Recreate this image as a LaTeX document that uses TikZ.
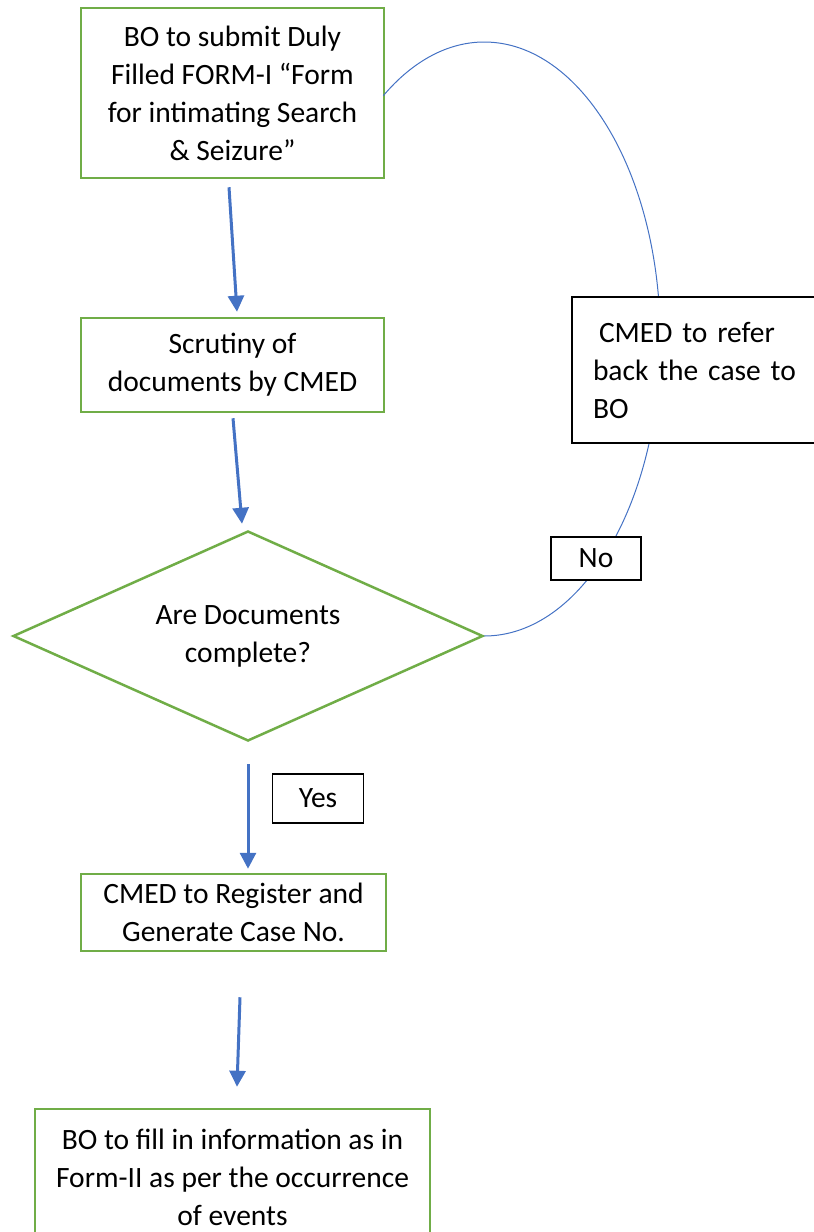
\documentclass[tikz,border=0pt]{standalone}
\usepackage{fontspec}
\setmainfont{Carlito}
\usepackage{xcolor}
\usetikzlibrary{positioning,calc,shapes.geometric,arrows.meta}
\definecolor{boxgreen}{HTML}{70AD47}
\definecolor{flowblue}{HTML}{4472C4}
\tikzset{
  stepbox/.style={draw=boxgreen, line width=2.5pt, align=center, inner sep=0pt},
  decbox/.style={diamond, aspect=2.24, draw=boxgreen, line width=2.5pt, align=center, inner sep=0pt, minimum width=470pt, minimum height=210pt},
  notebox/.style={draw=black, line width=1.5pt, fill=white, inner sep=0pt},
  flowarrow/.style={flowblue, line width=3pt, -{Triangle[length=16pt,width=16pt]}},
  loopline/.style={flowblue, line width=1pt}
}

\begin{document}
\begin{tikzpicture}[x=1pt, y=1pt, every node/.style={font=\fontsize{29.5}{38}\selectfont}]
			\useasboundingbox (0,0) rectangle (814,-1232);
			% main flow
			\node[stepbox, minimum width=303pt, minimum height=170pt] (submit) at (232.5,-93) {BO to submit Duly\\Filled FORM-I “Form\\for intimating Search\\\& Seizure”};
			\node[stepbox, minimum width=303pt, minimum height=94pt] (scrutiny) at (232.5,-365) {Scrutiny of\\documents by CMED};
			\node[decbox] (decision) at (248,-636) {Are Documents\\complete?};
			\node[stepbox, minimum width=305pt, minimum height=77pt] (register) at (233.5,-912.5) {CMED to Register and\\Generate Case No.};
			\node[stepbox, minimum width=395pt, minimum height=136pt] (formtwo) at (232.5,-1177) {BO to fill in information as in\\Form-II as per the occurrence\\of events};
			% arrows
			\draw[flowarrow] ($(submit.south) + (-3.5,-8)$) -- ($(scrutiny.north) + (4.5,5)$);
			\draw[flowarrow] ($(scrutiny.south) + (0.5,-5)$) -- ($(decision.north) + (-6,6)$);
			\draw[flowarrow] ($(decision.south) + (0,-22)$) -- ($(register.north) + (14.5,4)$);
			\draw[flowarrow] ($(register.south) + (6.5,-45)$) -- ($(formtwo.north) + (4.5,21)$);
			% loop back to the first box
			\draw[loopline] (decision.east) arc[start angle=-90, end angle=125, x radius=176, y radius=297];
			\node[notebox, minimum width=91pt, minimum height=49pt] (yes) at (318,-798.5) {Yes};
			\node[notebox, minimum width=90pt, minimum height=43pt] (no) at (596,-558.5) {No};
			\node[notebox, minimum width=248pt, minimum height=146pt, text width=206pt, align=left] (referback) at (696,-370) {\hspace{6pt}CMED to refer\\back the case to\\BO};
		\end{tikzpicture}
\end{document}
